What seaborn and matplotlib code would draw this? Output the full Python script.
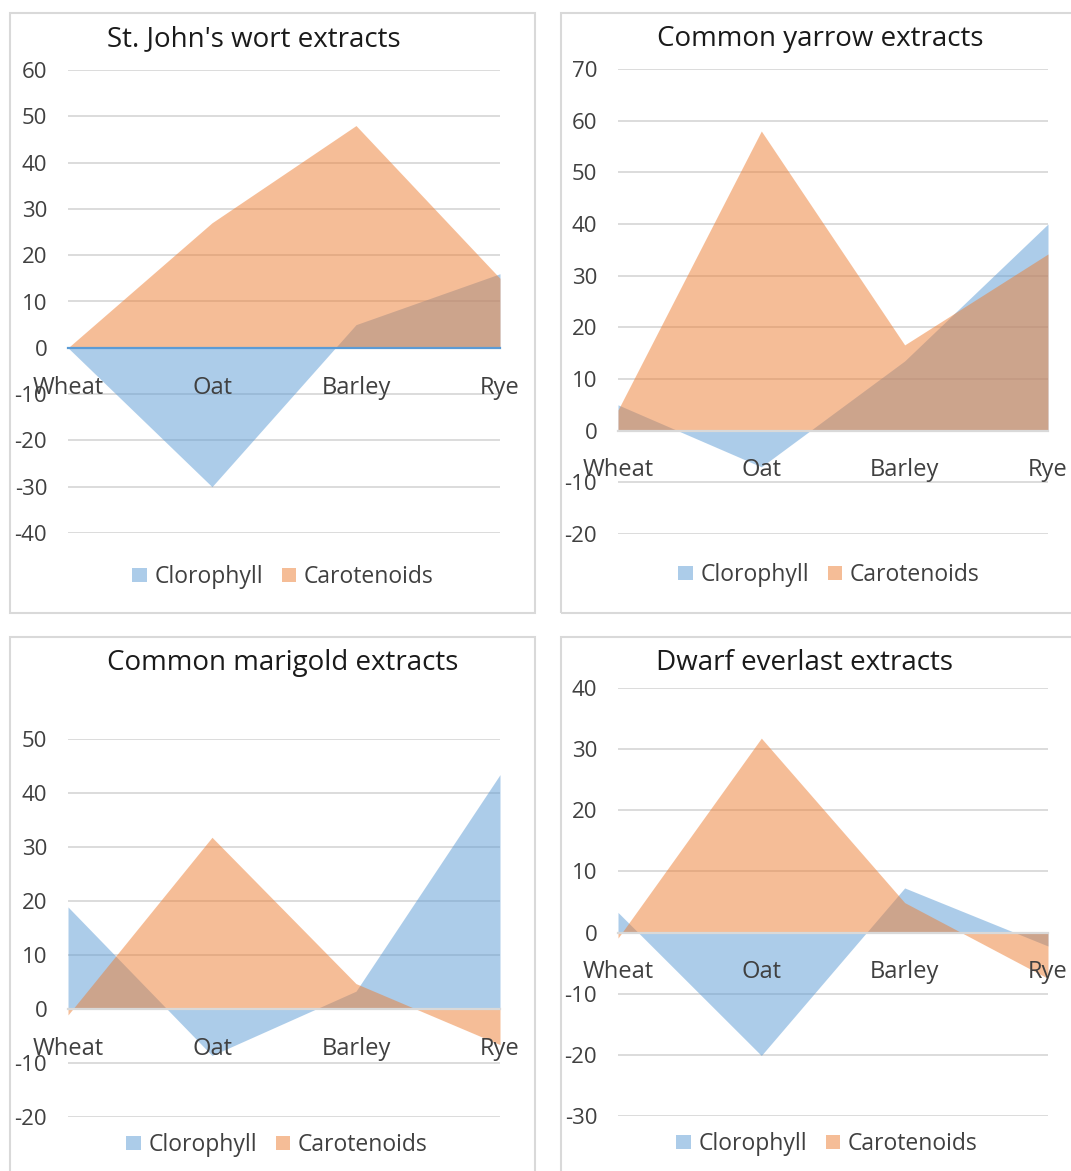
import matplotlib
matplotlib.use("Agg")
import matplotlib.pyplot as plt
from matplotlib.patches import Rectangle, Patch
import numpy as np
import pandas as pd
import seaborn as sns

# ---- data -------------------------------------------------------------
cereals = ["Wheat", "Oat", "Barley", "Rye"]
series_names = ["Clorophyll", "Carotenoids"]

titles = [
    "St. John's wort extracts",
    "Common yarrow extracts",
    "Common marigold extracts",
    "Dwarf everlast extracts",
]

stjohns_clorophyll = [0, -30, 5, 16]
stjohns_carotenoids = [0, 27, 48, 15]

yarrow_clorophyll = [5, -7, 13.5, 40]
yarrow_carotenoids = [4, 58, 16.6, 34.2]

marigold_clorophyll = [18.9, -8.6, 3.3, 43.4]
marigold_carotenoids = [-1.1, 31.8, 4.7, -6.6]

everlast_clorophyll = [3.3, -20.1, 7.3, -2.2]
everlast_carotenoids = [-0.9, 31.8, 4.9, -7.5]

y_ranges = [(-40, 60), (-20, 70), (-20, 50), (-30, 40)]

# ---- style ------------------------------------------------------------
sns.set_theme(style="white")
plt.rcParams["font.family"] = ["Open Sans", "DejaVu Sans"]

BLUE = "#5B9BD5"
ORANGE = "#ED7D31"
GRID = "#D9D9D9"
TEXT = "#404040"

W, H = 1071, 1171
fig = plt.figure(figsize=(W / 100, H / 100), dpi=100)
fig.patch.set_facecolor("white")


def fx(px):
    return px / W


def fy(py):
    return 1 - py / H


# chart frames (left, top, right, bottom) in pixels
frames = [(10, 13, 535, 613), (561, 13, 1076, 613),
          (10, 637, 535, 1176), (561, 637, 1076, 1176)]
# plot areas (left, top, right, bottom) in pixels
plot_areas = [(68, 70, 500, 533), (618, 69, 1048, 534),
              (68, 739, 500, 1117), (618, 688, 1048, 1116)]
title_pos = [(254, 39), (820, 39), (283, 663), (805, 663)]
legend_pos = [(283, 577), (829, 575), (277, 1145), (827, 1144)]

data = [
    (stjohns_clorophyll, stjohns_carotenoids),
    (yarrow_clorophyll, yarrow_carotenoids),
    (marigold_clorophyll, marigold_carotenoids),
    (everlast_clorophyll, everlast_carotenoids),
]

for i in range(4):
    l, t, r, b = frames[i]
    fig.patches.append(Rectangle((fx(l), fy(b)), fx(r - l), (b - t) / H,
                                 transform=fig.transFigure, fill=False,
                                 edgecolor=GRID, linewidth=1.5, zorder=0))

    l, t, r, b = plot_areas[i]
    ax = fig.add_axes([fx(l), fy(b), fx(r - l), (b - t) / H])
    ax.set_facecolor("none")

    clor, caro = data[i]
    df = pd.DataFrame({"cereal": cereals, "pos": np.arange(len(cereals)),
                       series_names[0]: clor, series_names[1]: caro})

    # outline-free lines keep seaborn in charge of the x/y scales
    for name in series_names:
        sns.lineplot(data=df, x="pos", y=name, ax=ax, linewidth=0, legend=False)

    ax.fill_between(df["pos"], 0, df[series_names[0]], color=BLUE, alpha=0.5,
                    linewidth=0, zorder=2)
    ax.fill_between(df["pos"], 0, df[series_names[1]], color=ORANGE, alpha=0.5,
                    linewidth=0, zorder=3)

    lo, hi = y_ranges[i]
    ax.set_ylim(lo, hi)
    ax.set_xlim(0, len(cereals) - 1)
    ax.set_yticks(np.arange(lo, hi + 1, 10))
    ax.set_yticklabels([f"{v:d}" for v in np.arange(lo, hi + 1, 10)])
    ax.yaxis.grid(True, color=GRID, linewidth=1.3)
    ax.set_axisbelow(True)

    # category axis crosses at zero and sits above the filled areas
    ax.set_xticks(df["pos"])
    ax.set_xticklabels(cereals)
    for side in ["top", "right", "left"]:
        ax.spines[side].set_visible(False)
    ax.spines["bottom"].set_position(("data", 0))
    ax.spines["bottom"].set_zorder(5)
    ax.xaxis.set_zorder(6)
    ax.spines["bottom"].set_color(BLUE if i == 0 else GRID)
    ax.spines["bottom"].set_linewidth(1.6)

    ax.tick_params(axis="x", length=0, pad=20, labelsize=17, labelcolor=TEXT)
    ax.tick_params(axis="y", length=0, pad=15, labelsize=16, labelcolor=TEXT)
    ax.set_xlabel("")
    ax.set_ylabel("")

    tx, ty = title_pos[i]
    fig.text(fx(tx), fy(ty), titles[i], ha="center", va="center",
             fontsize=20, color="#1a1a1a")

    handles = [Patch(facecolor=BLUE, alpha=0.5, edgecolor="none"),
               Patch(facecolor=ORANGE, alpha=0.5, edgecolor="none")]
    lx, ly = legend_pos[i]
    fig.legend(handles, series_names, loc="center",
               bbox_to_anchor=(fx(lx), fy(ly)), ncol=2, frameon=False,
               fontsize=16.5, handlelength=0.62, handleheight=0.62,
               handletextpad=0.35, columnspacing=0.8, labelcolor=TEXT)

fig.savefig("out.png", dpi=100, facecolor="white")
